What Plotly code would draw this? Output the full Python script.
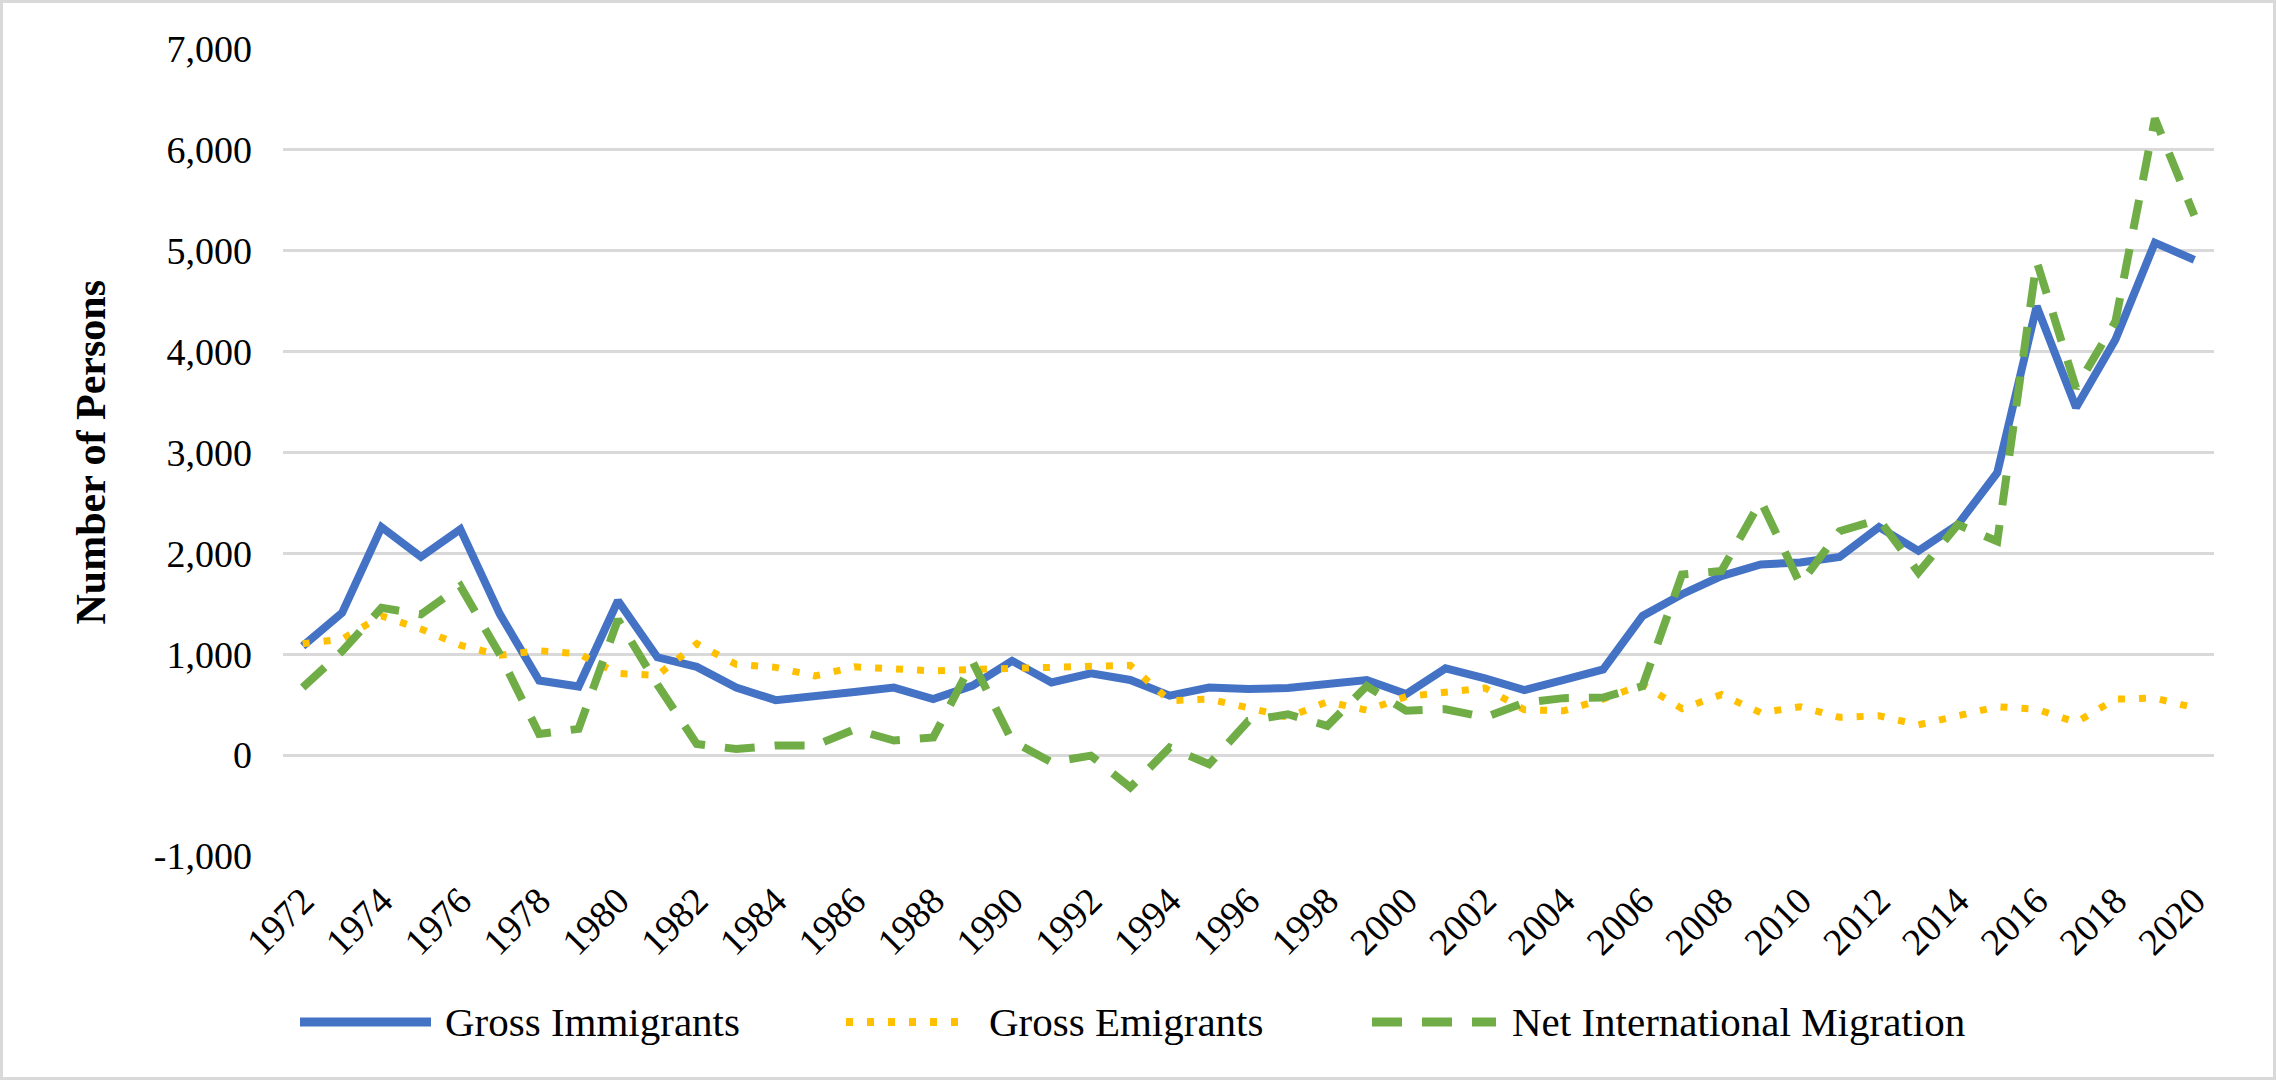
import plotly.graph_objects as go

# ---------------- data ----------------
years = list(range(1972, 2021))

gross_immigrants = [
    1080, 1410, 2260, 1965, 2240, 1400, 740, 680, 1530, 970,
    875, 670, 545, 580, 625, 670, 555, 690, 935, 720,
    810, 745, 590, 670, 655, 665, 705, 745, 605, 860,
    760, 645, 745, 850, 1380, 1595, 1775, 1890, 1910, 1965,
    2260, 2025, 2285, 2800, 4450, 3445, 4120, 5080, 4910,
]

gross_emigrants = [
    1105, 1150, 1380, 1250, 1090, 990, 1035, 1005, 810, 790,
    1105, 900, 870, 785, 875, 850, 835, 850, 860, 875,
    895, 890, 540, 555, 470, 375, 530, 445, 580, 630,
    665, 450, 440, 555, 700, 460, 600, 420, 480, 375,
    390, 300, 390, 480, 455, 325, 555, 565, 470,
]

net_migration = [
    670, 1030, 1460, 1395, 1675, 1000, 210, 260, 1345, 700,
    110, 60, 95, 95, 255, 145, 175, 925, 140, -70,
    -5, -320, 75, -90, 340, 405, 290, 685, 440, 455,
    375, 520, 565, 570, 685, 1790, 1825, 2520, 1695, 2220,
    2335, 1810, 2285, 2120, 4895, 3640, 4300, 6310, 5350,
]

series_names = ["Gross Immigrants", "Gross Emigrants", "Net International Migration"]

x_tick_vals = list(range(1972, 2021, 2))
x_tick_text = [str(v) for v in x_tick_vals]
y_tick_vals = [-1000, 0, 1000, 2000, 3000, 4000, 5000, 6000, 7000]
y_tick_text = ["-1,000", "0", "1,000", "2,000", "3,000", "4,000", "5,000", "6,000", "7,000"]

# ---------------- styling ----------------
W, H = 2277, 1081
ML, MR, MT, MB = 283, 63, 49, 225
PW, PH = W - ML - MR, H - MT - MB

BLUE = "#4472C4"
GOLD = "#FFC000"
GREEN = "#70AD47"
GRID = "#D9D9D9"
FONT = "Liberation Serif"

styles = [
    dict(color=BLUE, width=8, dash="solid"),
    dict(color=GOLD, width=7, dash="7px,14px"),
    dict(color=GREEN, width=8, dash="30px,20px"),
]


def px_x(px):
    return (px - ML) / PW


def px_y(py):
    return (H - MB - py) / PH


fig = go.Figure()
for name, vals, st in zip(series_names, [gross_immigrants, gross_emigrants, net_migration], styles):
    fig.add_trace(go.Scatter(
        x=years, y=vals, mode="lines", name=name,
        line=dict(color=st["color"], width=st["width"], dash=st["dash"]),
        showlegend=False,
    ))

# manual legend (sample lines + labels), matching the reference layout
legend_y = px_y(1022)
legend_items = [
    (300, 431, 443),
    (846, 970, 987),
    (1372, 1496, 1510),
]
shapes = []
annotations = []
for (x0, x1, xt), name, st in zip(legend_items, series_names, styles):
    shapes.append(dict(
        type="line", xref="paper", yref="paper",
        x0=px_x(x0), x1=px_x(x1), y0=legend_y, y1=legend_y,
        line=dict(color=st["color"], width=st["width"] + 1, dash=st["dash"]),
    ))
    annotations.append(dict(
        text=name, xref="paper", yref="paper", x=px_x(xt), y=legend_y,
        xanchor="left", yanchor="middle", showarrow=False,
        font=dict(family=FONT, size=41, color="#000000"),
    ))

# outer frame
shapes.append(dict(
    type="rect", xref="paper", yref="paper",
    x0=px_x(1.5), x1=px_x(W - 2.5), y0=px_y(1.5), y1=px_y(H - 2.5),
    line=dict(color=GRID, width=3), fillcolor="rgba(0,0,0,0)", layer="below",
))

# y-axis title
annotations.append(dict(
    text="<b>Number of Persons</b>", xref="paper", yref="paper",
    x=px_x(90), y=0.5, xanchor="center", yanchor="middle",
    textangle=-90, showarrow=False,
    font=dict(family=FONT, size=42, color="#000000"),
))

fig.update_layout(
    width=W, height=H,
    margin=dict(l=ML, r=MR, t=MT, b=MB),
    paper_bgcolor="white", plot_bgcolor="white",
    font=dict(family=FONT, color="#000000"),
    shapes=shapes, annotations=annotations,
    showlegend=False,
)
fig.update_xaxes(
    range=[1971.5, 2020.5],
    tickmode="array", tickvals=x_tick_vals, ticktext=x_tick_text,
    tickangle=-45, tickfont=dict(family=FONT, size=38, color="#000000"),
    showgrid=False, zeroline=False, showline=False, ticks="",
    ticklabelstandoff=14,
)
fig.update_yaxes(
    range=[-1000, 7000],
    tickmode="array", tickvals=y_tick_vals, ticktext=y_tick_text,
    tickfont=dict(family=FONT, size=38, color="#000000"),
    showgrid=True, gridcolor=GRID, gridwidth=3,
    zeroline=False, showline=False, ticks="",
    ticklabelstandoff=30,
)

fig.write_html(
    "out.html",
    config={"displayModeBar": False},
    post_script="document.body.style.margin='0px';",
)
